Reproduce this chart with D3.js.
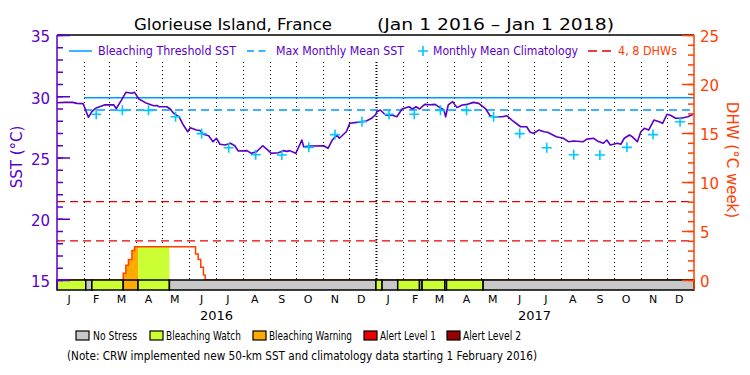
<!DOCTYPE html>
<html><head><meta charset="utf-8">
<script src="https://cdn.jsdelivr.net/npm/d3@7"></script>
<style>body{margin:0;background:#fff}svg{display:block}text{font-family:"DejaVu Sans",sans-serif}</style>
</head><body><svg id="c" width="750" height="375"></svg>
<script>
// ---------------- data ----------------
const titleText = "Glorieuse Island, France";
const periodText = "(Jan 1 2016 \u2013 Jan 1 2018)";
const monthLabels = ["J","F","M","A","M","J","J","A","S","O","N","D"];
const yearLabels = ["2016","2017"];
const sstTicks = [15,20,25,30,35];
const dhwTicks = [0,5,10,15,20,25];
const thresholdSST = 29.88;
const mmmSST = 28.88;
const dhwRefLevels = [4,8];

const sstDates = ["2016-01-01","2016-01-10","2016-01-19","2016-01-24","2016-01-31","2016-02-06","2016-02-10","2016-02-15","2016-02-25","2016-03-06","2016-03-09","2016-03-15","2016-03-20","2016-03-27","2016-03-30","2016-04-04","2016-04-13","2016-04-21","2016-04-25","2016-04-27","2016-05-06","2016-05-10","2016-05-14","2016-05-20","2016-05-25","2016-05-30","2016-06-02","2016-06-09","2016-06-13","2016-06-17","2016-06-23","2016-06-28","2016-07-02","2016-07-06","2016-07-12","2016-07-18","2016-07-23","2016-07-27","2016-08-06","2016-08-11","2016-08-17","2016-08-24","2016-08-29","2016-09-03","2016-09-11","2016-09-17","2016-09-21","2016-09-24","2016-10-01","2016-10-08","2016-10-10","2016-10-17","2016-11-02","2016-11-07","2016-11-12","2016-11-17","2016-11-20","2016-11-28","2016-12-02","2016-12-10","2016-12-21","2016-12-27","2017-01-01","2017-01-02","2017-01-06","2017-01-12","2017-01-16","2017-01-19","2017-01-25","2017-01-31","2017-02-08","2017-02-12","2017-02-16","2017-02-20","2017-02-26","2017-03-04","2017-03-10","2017-03-14","2017-03-20","2017-03-22","2017-03-25","2017-03-30","2017-04-04","2017-04-10","2017-04-16","2017-04-23","2017-04-29","2017-05-07","2017-05-12","2017-05-16","2017-05-26","2017-05-31","2017-06-06","2017-06-16","2017-06-23","2017-06-27","2017-07-01","2017-07-07","2017-07-13","2017-07-17","2017-07-27","2017-08-04","2017-08-10","2017-08-16","2017-08-27","2017-08-31","2017-09-08","2017-09-12","2017-09-19","2017-09-23","2017-09-27","2017-10-05","2017-10-09","2017-10-13","2017-10-19","2017-10-22","2017-10-28","2017-11-01","2017-11-05","2017-11-10","2017-11-16","2017-11-22","2017-11-26","2017-12-01","2017-12-05","2017-12-11","2017-12-17","2017-12-25","2017-12-31"];
const sstValues = [29.47,29.5,29.5,29.42,29.4,28.28,28.75,29.05,29.3,29.3,29.0,29.69,30.32,30.25,30.32,29.78,29.42,29.23,29.25,29.14,29.14,28.96,28.6,28.33,27.65,27.1,27.43,27.24,27.2,26.89,26.78,26.29,26.57,26.08,26.02,26.16,25.96,25.53,25.56,25.34,25.47,25.96,25.67,25.34,25.39,25.56,25.5,25.56,25.34,26.43,25.88,25.94,25.96,25.75,26.43,26.84,26.57,27.1,27.79,27.87,27.98,28.2,28.53,28.74,28.88,28.47,28.45,28.47,28.33,28.96,29.14,28.96,29.14,28.96,29.34,29.3,29.34,29.14,28.88,28.33,29.29,29.56,29.07,29.29,29.34,29.5,29.42,28.96,28.41,28.33,28.33,28.41,28.06,27.51,27.51,27.06,26.98,27.24,27.1,27.06,26.7,26.57,26.29,26.35,26.29,26.5,26.57,26.35,26.16,26.43,26.02,26.16,26.08,26.57,26.84,26.7,26.29,27.1,27.38,27.24,28.06,27.92,27.79,28.53,28.45,28.2,28.2,28.33,28.53];

const climDates = ["2016-02-15","2016-03-16","2016-04-15","2016-05-16","2016-06-15","2016-07-16","2016-08-16","2016-09-15","2016-10-16","2016-11-15","2016-12-16","2017-01-16","2017-02-14","2017-03-16","2017-04-15","2017-05-16","2017-06-15","2017-07-16","2017-08-16","2017-09-15","2017-10-16","2017-11-15","2017-12-16"];
const climValues = [28.53,28.85,28.85,28.33,26.95,25.8,25.23,25.2,25.83,26.87,27.92,28.53,28.53,28.85,28.85,28.33,26.95,25.8,25.23,25.2,25.83,26.87,27.92];

const dhwDates = ["2016-01-01","2016-03-17","2016-03-20","2016-03-23","2016-03-27","2016-03-30","2016-06-08","2016-06-11","2016-06-14","2016-06-17","2016-06-19","2016-06-22","2018-01-01"];
const dhwValues = [0,0.7,1.5,2.1,3.0,3.4,2.65,2.1,1.3,0.5,0,0,0];
const dhwEarlyDates = ["2016-01-01","2016-01-16"];
const dhwEarlyValues = [0,0];

const stressDates = ["2016-01-01","2016-02-03","2016-02-10","2016-03-17","2016-04-03","2016-05-09","2017-01-01","2017-01-08","2017-01-26","2017-02-20","2017-02-23","2017-03-21","2017-03-23","2017-05-04","2018-01-01"];
const stressLevels = [1,0,1,2,1,0,1,0,1,0,1,0,1,0];

const stressNames = ["No Stress","Bleaching Watch","Bleaching Warning","Alert Level 1","Alert Level 2"];
const noteText = "(Note: CRW implemented new 50-km SST and climatology data starting 1 February 2016)";

// ---------------- styles ----------------
const PURPLE = "#5a00c8", ORANGE = "#ff4000", BLUE = "#0099ff", CYAN = "#00c8ff", RED = "#e80000";
const stressColors = ["#c8c8c8","#ccff33","#ffaa00","#ee0000","#990000"];

const parse = d3.timeParse("%Y-%m-%d");
const svg = d3.select("#c");
const X0 = 57, X1 = 694, YT = 35, YB = 290, YBAR = 280;
const x = d3.scaleTime().domain([parse("2016-01-01"), parse("2018-01-01")]).range([X0, X1]);
const ySST = d3.scaleLinear().domain([15,35]).range([YBAR, YT]);
const yDHW = d3.scaleLinear().domain([0,25]).range([YBAR, YT]);

// title
svg.append("text").attr("x",134).attr("y",30).attr("font-size",16.5).attr("textLength",198).attr("lengthAdjust","spacingAndGlyphs").text(titleText);
svg.append("text").attr("x",377).attr("y",30).attr("font-size",16.5).attr("textLength",237).attr("lengthAdjust","spacingAndGlyphs").text(periodText);

// top frame line
svg.append("line").attr("x1",X0).attr("x2",X1).attr("y1",YT).attr("y2",YT).attr("stroke","#000").attr("stroke-width",1.5);

// dotted month lines
const monthStarts = d3.timeMonth.range(parse("2016-02-01"), parse("2018-01-01"));
svg.append("g").selectAll("line").data(monthStarts).join("line")
  .attr("x1",d=>Math.round(x(d))+0.5).attr("x2",d=>Math.round(x(d))+0.5)
  .attr("y1",62).attr("y2",YBAR)
  .attr("stroke","#000")
  .attr("stroke-width",d=>d.getMonth()===0?2:1)
  .attr("stroke-dasharray",d=>d.getMonth()===0?"1,2":"1,3");

// DHW reference lines
svg.append("g").selectAll("line").data(dhwRefLevels).join("line")
  .attr("x1",X0).attr("x2",X1).attr("y1",d=>yDHW(d)).attr("y2",d=>yDHW(d))
  .attr("stroke",RED).attr("stroke-width",1.3).attr("stroke-dasharray","8,5");

// threshold & MMM
svg.append("line").attr("x1",x(parse("2016-02-01"))).attr("x2",X1).attr("y1",ySST(thresholdSST)).attr("y2",ySST(thresholdSST)).attr("stroke",BLUE).attr("stroke-width",1.5);
svg.append("line").attr("x1",x(parse("2016-02-01"))).attr("x2",X1).attr("y1",ySST(mmmSST)).attr("y2",ySST(mmmSST)).attr("stroke",BLUE).attr("stroke-width",1.5).attr("stroke-dasharray","8,5");

// DHW fill by stress level
const dhwData = dhwDates.map((d,i)=>({date:parse(d), v:dhwValues[i]}));
const area = d3.area().curve(d3.curveStepAfter).x(d=>x(d.date)).y0(yDHW(0)).y1(d=>yDHW(d.v));
const defs = svg.append("defs");
const stressSegs = stressLevels.map((l,i)=>({start:parse(stressDates[i]), end:parse(stressDates[i+1]), level:l}));
stressSegs.forEach((s,i)=>{
  if (s.level===0) return;
  defs.append("clipPath").attr("id","cp"+i).append("rect")
    .attr("x",x(s.start)).attr("width",x(s.end)-x(s.start)).attr("y",YT).attr("height",YBAR-YT);
  svg.append("path").datum(dhwData).attr("d",area).attr("fill",stressColors[s.level]).attr("clip-path","url(#cp"+i+")");
});
const dhwLine = d3.line().curve(d3.curveStepAfter).x(d=>x(d.date)).y(d=>yDHW(d.v));
svg.append("path").datum(dhwData).attr("d",dhwLine).attr("fill","none").attr("stroke",ORANGE).attr("stroke-width",1.5);

// SST line
const sstData = sstDates.map((d,i)=>({date:parse(d), v:sstValues[i]}));
svg.append("path").datum(sstData).attr("d",d3.line().x(d=>x(d.date)).y(d=>ySST(d.v)))
  .attr("fill","none").attr("stroke",PURPLE).attr("stroke-width",1.6).attr("stroke-linejoin","round");

// climatology pluses
const climData = climDates.map((d,i)=>({date:parse(d), v:climValues[i]}));
svg.append("g").selectAll("path").data(climData).join("path")
  .attr("d",d=>{const cx=x(d.date), cy=ySST(d.v); return `M${cx-5},${cy}H${cx+5}M${cx},${cy-5}V${cy+5}`;})
  .attr("stroke",CYAN).attr("stroke-width",1.6);

// stress bar
svg.append("g").selectAll("rect").data(stressSegs).join("rect")
  .attr("x",d=>x(d.start)).attr("width",d=>x(d.end)-x(d.start))
  .attr("y",YBAR).attr("height",YB-YBAR)
  .attr("fill",d=>stressColors[d.level]).attr("stroke","#000").attr("stroke-width",1.5);

// early DHW segment
const dhwEarly = dhwEarlyDates.map((d,i)=>({date:parse(d), v:dhwEarlyValues[i]}));
svg.append("path").datum(dhwEarly).attr("d",dhwLine).attr("fill","none").attr("stroke",PURPLE).attr("stroke-width",2);

// left axis
const gL = svg.append("g").attr("transform",`translate(${X0},0)`).attr("color",PURPLE);
gL.call(d3.axisLeft(ySST).tickValues(d3.range(15,36,1)).tickSizeInner(-6).tickSizeOuter(0).tickFormat(""));
gL.append("g").call(d3.axisLeft(ySST).tickValues(sstTicks).tickSizeInner(-13).tickSizeOuter(0).tickPadding(7));
gL.selectAll(".domain").remove();
gL.selectAll("text").attr("font-size",15).attr("font-family","DejaVu Sans").attr("fill",PURPLE).attr("dy","0.45em");
gL.selectAll("line").attr("stroke-width",1.5);
svg.append("line").attr("x1",X0).attr("x2",X0).attr("y1",YT).attr("y2",YB).attr("stroke",PURPLE).attr("stroke-width",1.5);

// right axis
const gR = svg.append("g").attr("transform",`translate(${X1},0)`).attr("color",ORANGE);
gR.call(d3.axisRight(yDHW).tickValues(d3.range(0,26,1)).tickSizeInner(-6).tickSizeOuter(0).tickFormat(""));
gR.append("g").call(d3.axisRight(yDHW).tickValues(dhwTicks).tickSizeInner(-12).tickSizeOuter(0).tickPadding(6));
gR.selectAll(".domain").remove();
gR.selectAll("text").attr("font-size",15).attr("font-family","DejaVu Sans").attr("fill",ORANGE).attr("dy","0.45em");
gR.selectAll("line").attr("stroke-width",1.5);
svg.append("line").attr("x1",X1).attr("x2",X1).attr("y1",YT).attr("y2",YB).attr("stroke",ORANGE).attr("stroke-width",1.5);

// axis titles
svg.append("text").attr("transform","translate(22,157) rotate(-90)").attr("text-anchor","middle")
  .attr("font-size",15).attr("fill",PURPLE).text("SST (\u00B0C)");
svg.append("text").attr("transform","translate(727,160) rotate(90)").attr("text-anchor","middle")
  .attr("font-size",15).attr("fill",ORANGE).text("DHW (\u00B0C week)");

// month labels
const monthMids = d3.timeMonth.range(parse("2016-01-01"), parse("2018-01-01")).map(d=>new Date(d.getFullYear(), d.getMonth(), 15));
svg.append("g").selectAll("text").data(monthMids).join("text")
  .attr("x",d=>x(d)).attr("y",303).attr("text-anchor","middle").attr("font-size",11)
  .text(d=>monthLabels[d.getMonth()]);
svg.append("g").selectAll("text").data(yearLabels).join("text")
  .attr("x",d=>x(new Date(+d,6,2))).attr("y",320).attr("text-anchor","middle").attr("font-size",13)
  .text(d=>d);

// top legend
const lg = svg.append("g").attr("font-size",12);
lg.append("line").attr("x1",69).attr("x2",92).attr("y1",51).attr("y2",51).attr("stroke",BLUE).attr("stroke-width",1.5);
lg.append("text").attr("x",98).attr("y",55).attr("fill",PURPLE).attr("textLength",138).attr("lengthAdjust","spacingAndGlyphs").text("Bleaching Threshold SST");
lg.append("line").attr("x1",247).attr("x2",266).attr("y1",51).attr("y2",51).attr("stroke",BLUE).attr("stroke-width",1.5).attr("stroke-dasharray","7,4.5");
lg.append("text").attr("x",276).attr("y",55).attr("fill",PURPLE).attr("textLength",128).attr("lengthAdjust","spacingAndGlyphs").text("Max Monthly Mean SST");
lg.append("path").attr("d","M418,51H428M423,46V56").attr("stroke",CYAN).attr("stroke-width",1.6);
lg.append("text").attr("x",433).attr("y",55).attr("fill",PURPLE).attr("textLength",145).attr("lengthAdjust","spacingAndGlyphs").text("Monthly Mean Climatology");
lg.append("line").attr("x1",588).attr("x2",611).attr("y1",51).attr("y2",51).attr("stroke",RED).attr("stroke-width",1.5).attr("stroke-dasharray","9,5");
lg.append("text").attr("x",618).attr("y",55).attr("fill",ORANGE).attr("textLength",59).attr("lengthAdjust","spacingAndGlyphs").text("4, 8 DHWs");

// bottom legend
const bxs = [76,150,253,364,447];
const txs = [[93,44],[166,75],[269,83],[380,56],[463,58]];
const bl = svg.append("g").attr("font-size",12);
stressNames.forEach((n,i)=>{
  bl.append("rect").attr("x",bxs[i]).attr("y",331).attr("width",13).attr("height",9).attr("fill",stressColors[i]).attr("stroke","#000").attr("stroke-width",1.2);
  bl.append("text").attr("x",txs[i][0]).attr("y",340).attr("textLength",txs[i][1]).attr("lengthAdjust","spacingAndGlyphs").text(n);
});
svg.append("text").attr("x",67).attr("y",360).attr("font-size",12).attr("textLength",470).attr("lengthAdjust","spacingAndGlyphs").text(noteText);
</script></body></html>
